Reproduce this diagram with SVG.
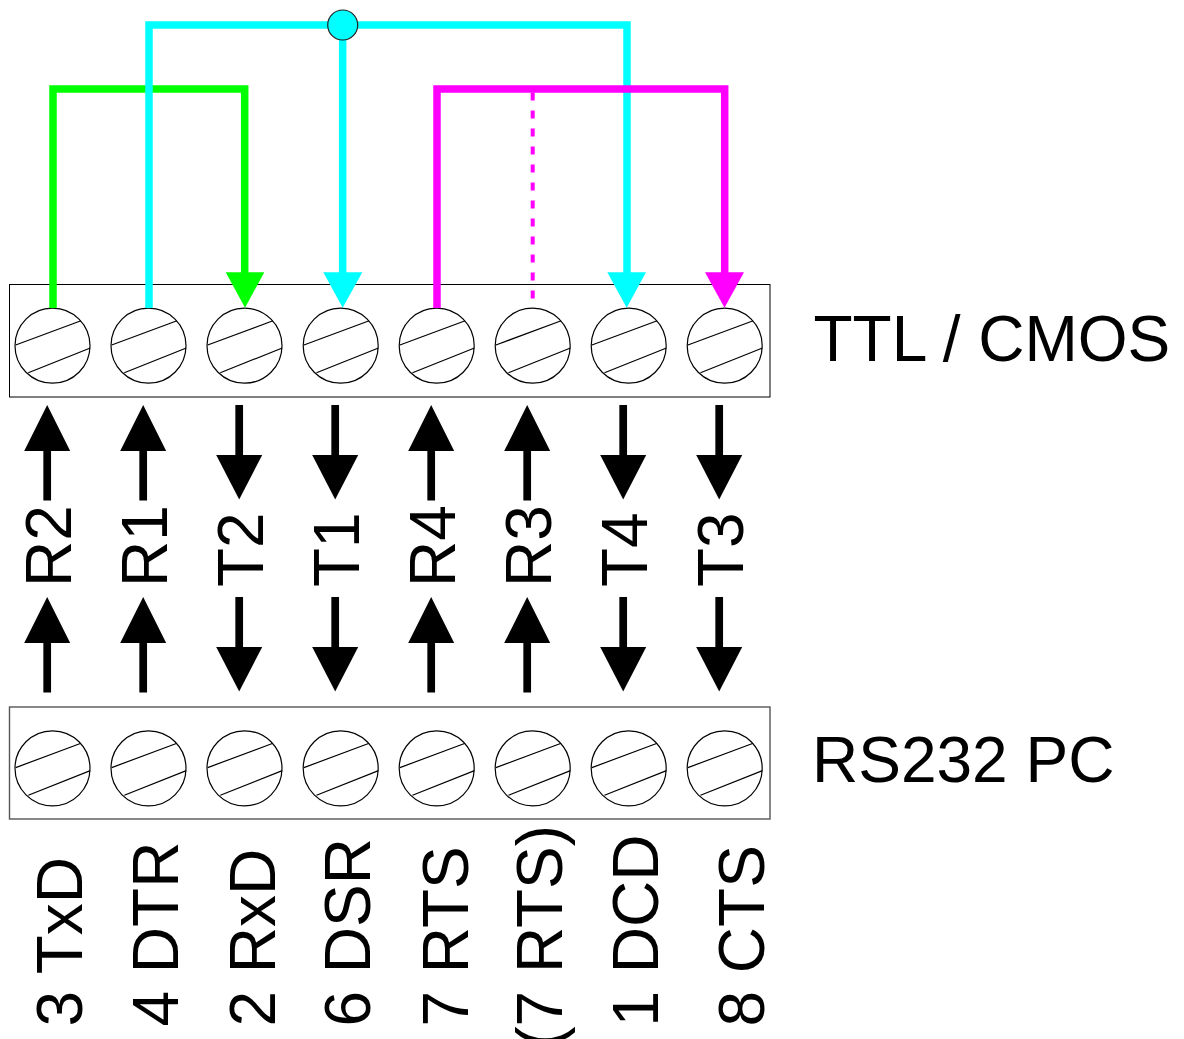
<svg xmlns="http://www.w3.org/2000/svg" xmlns:xlink="http://www.w3.org/1999/xlink" width="1184" height="1039" viewBox="0 0 1184 1039">
<style>
.lbl{font-family:"Liberation Sans",Arial,sans-serif;font-size:64px;fill:#000}
.blk{fill:#fff;stroke:#000;stroke-width:1}
.scr{fill:#fff;stroke:#000;stroke-width:1.2}
.scl{stroke:#000;stroke-width:1.2;fill:none}
.wire{fill:none;stroke-width:7.5;stroke-linejoin:miter;stroke-linecap:butt}
</style>
<defs>
<g id="screw">
<circle class="scr" cx="0" cy="0" r="37.5"/>
<line class="scl" x1="-36.8" y1="-0.7" x2="28.5" y2="-25"/>
<line class="scl" x1="-24.2" y1="27" x2="37.8" y2="2.3"/>
</g>
<g id="up">
<path d="M0,0 L-23,46 L23,46 Z" fill="#000"/>
<rect x="-3.85" y="45.5" width="7.7" height="50" fill="#000"/>
</g>
<g id="down">
<rect x="-3.85" y="0" width="7.7" height="50.5" fill="#000"/>
<path d="M-23,50 L23,50 L0,94.5 Z" fill="#000"/>
</g>
</defs>

<g id="ttl-block">
<rect class="blk" x="9.5" y="284.5" width="760.5" height="112.5"/>
<use xlink:href="#screw" href="#screw" x="52.5" y="345.7"/>
<use xlink:href="#screw" href="#screw" x="148.5" y="345.7"/>
<use xlink:href="#screw" href="#screw" x="244.5" y="345.7"/>
<use xlink:href="#screw" href="#screw" x="340.7" y="345.7"/>
<use xlink:href="#screw" href="#screw" x="436.7" y="345.7"/>
<use xlink:href="#screw" href="#screw" x="532.7" y="345.7"/>
<use xlink:href="#screw" href="#screw" x="628.7" y="345.7"/>
<use xlink:href="#screw" href="#screw" x="724.7" y="345.7"/>
<text class="lbl" x="813.5" y="360.5">TTL / CMOS</text>
</g>

<g id="rs232-block">
<rect x="9.5" y="707" width="760.5" height="112" fill="#fff" stroke="#555" stroke-width="1.4"/>
<use xlink:href="#screw" href="#screw" x="52.5" y="768.3"/>
<use xlink:href="#screw" href="#screw" x="148.5" y="768.3"/>
<use xlink:href="#screw" href="#screw" x="244.5" y="768.3"/>
<use xlink:href="#screw" href="#screw" x="340.7" y="768.3"/>
<use xlink:href="#screw" href="#screw" x="436.7" y="768.3"/>
<use xlink:href="#screw" href="#screw" x="532.7" y="768.3"/>
<use xlink:href="#screw" href="#screw" x="628.7" y="768.3"/>
<use xlink:href="#screw" href="#screw" x="724.7" y="768.3"/>
<text class="lbl" x="812" y="782.3">RS232 PC</text>
</g>

<g id="signals">
<use xlink:href="#up" href="#up" x="47.2" y="405"/>
<use xlink:href="#up" href="#up" x="47.2" y="597"/>
<text class="lbl" transform="translate(71.2,587) rotate(-90)">R2</text>
<use xlink:href="#up" href="#up" x="143.2" y="405"/>
<use xlink:href="#up" href="#up" x="143.2" y="597"/>
<text class="lbl" transform="translate(167.2,587) rotate(-90)">R1</text>
<use xlink:href="#down" href="#down" x="239.2" y="405"/>
<use xlink:href="#down" href="#down" x="239.2" y="597"/>
<text class="lbl" transform="translate(263.2,587) rotate(-90)">T2</text>
<use xlink:href="#down" href="#down" x="335.2" y="405"/>
<use xlink:href="#down" href="#down" x="335.2" y="597"/>
<text class="lbl" transform="translate(359.2,587) rotate(-90)">T1</text>
<use xlink:href="#up" href="#up" x="431.2" y="405"/>
<use xlink:href="#up" href="#up" x="431.2" y="597"/>
<text class="lbl" transform="translate(455.2,587) rotate(-90)">R4</text>
<use xlink:href="#up" href="#up" x="527.2" y="405"/>
<use xlink:href="#up" href="#up" x="527.2" y="597"/>
<text class="lbl" transform="translate(551.2,587) rotate(-90)">R3</text>
<use xlink:href="#down" href="#down" x="623.2" y="405"/>
<use xlink:href="#down" href="#down" x="623.2" y="597"/>
<text class="lbl" transform="translate(647.2,587) rotate(-90)">T4</text>
<use xlink:href="#down" href="#down" x="719.2" y="405"/>
<use xlink:href="#down" href="#down" x="719.2" y="597"/>
<text class="lbl" transform="translate(743.2,587) rotate(-90)">T3</text>
</g>

<g id="pc-labels">
<text class="lbl" transform="translate(82,1026.5) rotate(-90)">3 TxD</text>
<text class="lbl" transform="translate(178.3,1026.5) rotate(-90)">4 DTR</text>
<text class="lbl" transform="translate(275,1026.5) rotate(-90)">2 RxD</text>
<text class="lbl" transform="translate(370,1026.5) rotate(-90)">6 DSR</text>
<text class="lbl" transform="translate(468,1026.5) rotate(-90)">7 RTS</text>
<text class="lbl" transform="translate(562.3,1047.8) rotate(-90)">(7 RTS)</text>
<text class="lbl" transform="translate(657.7,1026.5) rotate(-90)">1 DCD</text>
<text class="lbl" transform="translate(764,1026.5) rotate(-90)">8 CTS</text>
</g>

<g id="connectors">
<polyline class="wire" stroke="#00ff00" points="53,308 53,89 244.7,89 244.7,273"/>
<path d="M225.7,272.3 L264.3,272.3 L245,307.7 Z" fill="#00ff00"/>
<polyline class="wire" stroke="#00ffff" points="149,308 149,25 627,25 627,273"/>
<line class="wire" stroke="#00ffff" x1="342.7" y1="25" x2="342.7" y2="273"/>
<path d="M323.3,272.3 L362.3,272.3 L342.7,307.7 Z" fill="#00ffff"/>
<path d="M607.3,272.3 L646,272.3 L626.7,307.7 Z" fill="#00ffff"/>
<circle cx="342.7" cy="25" r="15" fill="#00ffff" stroke="#222" stroke-width="1.2"/>
<polyline class="wire" stroke="#ff00ff" points="437,308 437,89 724.7,89 724.7,273"/>
<path d="M705,272.3 L744,272.3 L724.5,307.7 Z" fill="#ff00ff"/>
<line stroke="#ff00ff" stroke-width="4" stroke-dasharray="8 10" x1="532.7" y1="92.5" x2="532.7" y2="308"/>
</g>
</svg>
